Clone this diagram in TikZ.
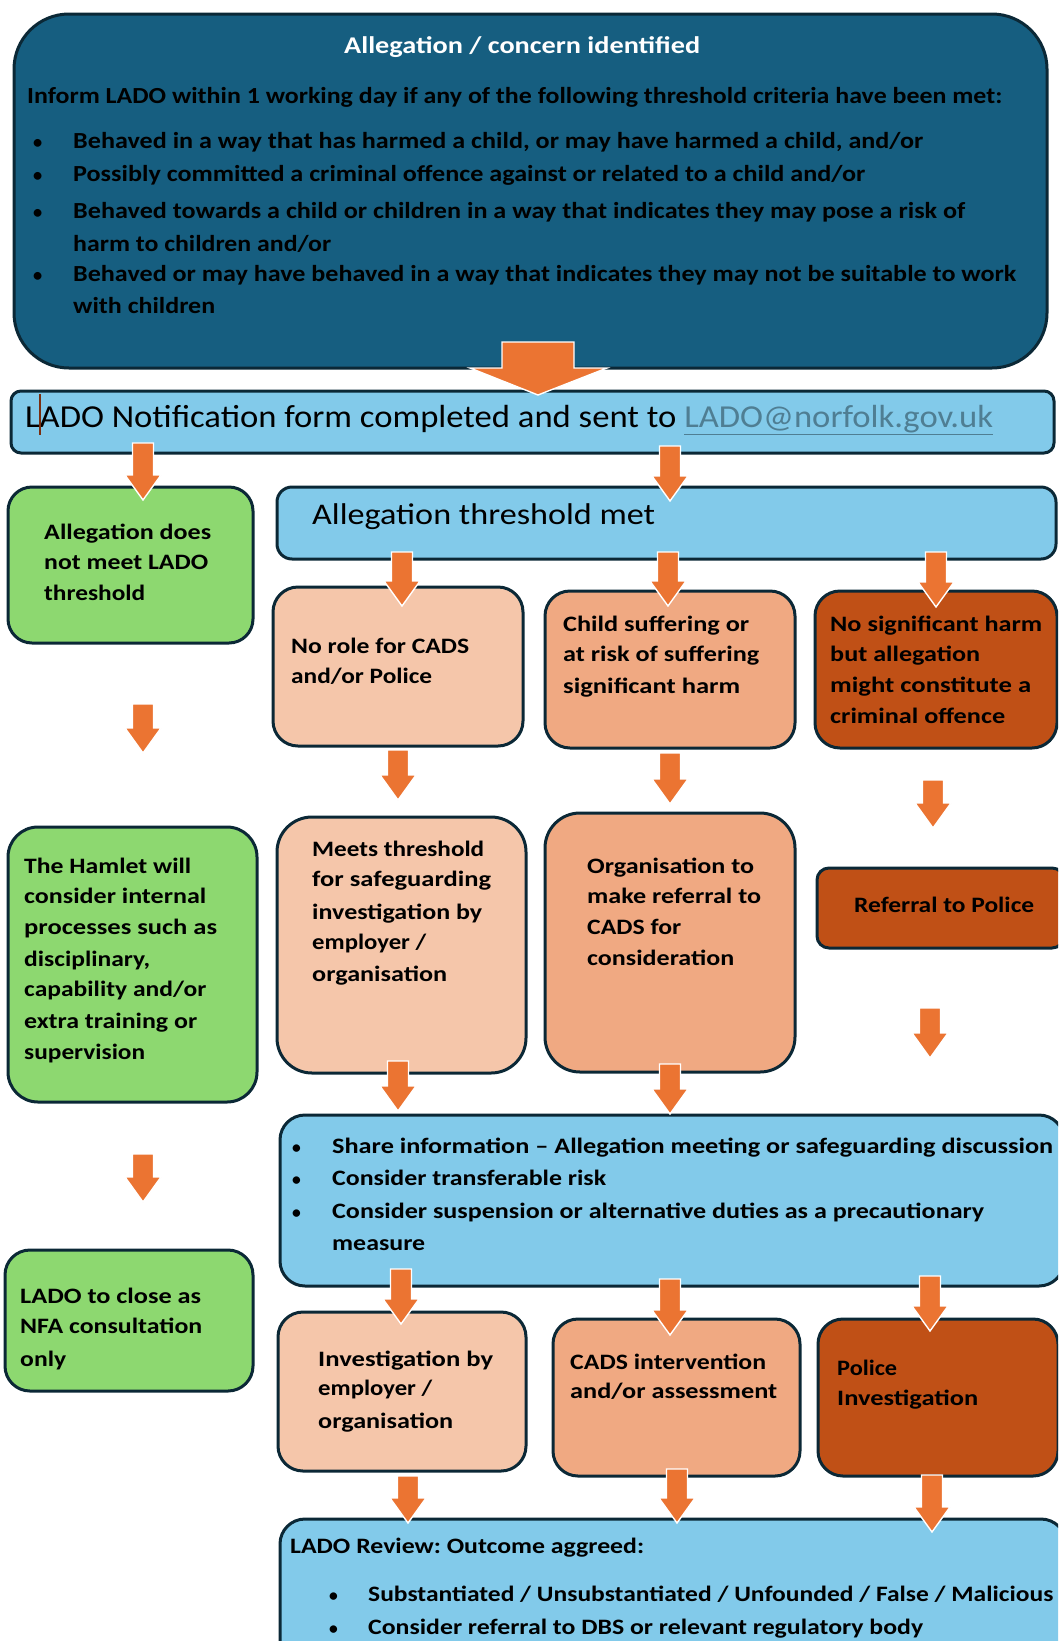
\documentclass[tikz,border=0pt]{standalone}
\usepackage{fontspec}
\setmainfont{Carlito}
\usepackage{graphicx}
\frenchspacing
\definecolor{dblue}{HTML}{165E80}
\definecolor{lblue}{HTML}{82CAEA}
\definecolor{lgreen}{HTML}{8DD870}
\definecolor{peach}{HTML}{F5C6AA}
\definecolor{salmon}{HTML}{F0A982}
\definecolor{rust}{HTML}{C05016}
\definecolor{arrowc}{HTML}{EB7432}
\definecolor{bord}{HTML}{0B2836}
\definecolor{linkc}{HTML}{4F7E93}
\definecolor{cursc}{HTML}{7A2E10}
\tikzset{
  rbox/.style={draw=bord, line width=3pt, inner sep=0pt, outer sep=0pt, anchor=north west},
  arr/.style={fill=arrowc, draw=white, line width=1.4pt},
  tb/.style={inner sep=0pt, anchor=west, font=\fontsize{23}{27}\selectfont\bfseries, text height=17pt, text depth=3.5pt},
  tt/.style={inner sep=0pt, anchor=west, font=\fontsize{24}{28}\selectfont\bfseries, text=white, text height=18pt, text depth=3.6pt},
  bx/.style={inner sep=0pt, anchor=west, font=\fontsize{22}{26}\selectfont\bfseries, text height=16.5pt, text depth=3.3pt},
  big/.style={inner sep=0pt, anchor=west, font=\fontsize{32}{36}\selectfont, text height=24pt, text depth=4.8pt},
  mid/.style={inner sep=0pt, anchor=west, font=\fontsize{30}{34}\selectfont, text height=22.5pt, text depth=4.5pt},
}
% box: name, x1, y1, x2, y2, radius, fill
\newcommand\BOX[7]{\node[rbox, rounded corners=#6pt, fill=#7, minimum width={(#4)-(#2)}, minimum height={(#5)-(#3)}] (#1) at (#2,#3) {};}
% text line: [style] name, x, y, width, text
\newcommand\TL[6][bx]{\node[#1] (#2) at (#3,#4) {\resizebox{#5pt}{\height}{#6}};}
% bullet: [style] name, x, y
\newcommand\BL[4][bx]{\node[#1] (#2) at (#3,#4) {\scalebox{0.8}{\textbullet}};}
% block arrow: name, x, ytop, ytip
\newcommand\ARW[4]{\coordinate (#1) at (#2,#3);
  \filldraw[arr] (#2-10.5,#3) -- (#2+10.5,#3) -- (#2+10.5,#4-25) -- (#2+18,#4-25) -- (#2,#4) -- (#2-18,#4-25) -- (#2-10.5,#4-25) -- cycle;}
\begin{document}
\begin{tikzpicture}[x=1pt,y=-1pt]
\path[use as bounding box, clip] (0,0) rectangle (1058,1641);
\fill[white] (0,0) rectangle (1058,1641);
% ---------- boxes ----------
\BOX{top}{14}{14}{1047}{368}{55}{dblue}
\BOX{notif}{11}{391}{1054}{453}{10}{lblue}
\BOX{gone}{8}{487}{253}{643}{24}{lgreen}
\BOX{thr}{277}{487}{1056}{559}{15}{lblue}
\BOX{bA}{273}{587}{523}{746}{25}{peach}
\BOX{bB}{545}{591}{795}{748}{25}{salmon}
\BOX{bC}{815}{591}{1057}{748}{25}{rust}
\BOX{gtwo}{8}{827}{257}{1102}{30}{lgreen}
\BOX{bD}{277}{817}{526}{1073}{35}{peach}
\BOX{bE}{545}{813}{795}{1072}{35}{salmon}
\BOX{bF}{817}{868}{1064}{948}{12}{rust}
\BOX{share}{280}{1115}{1064}{1286}{25}{lblue}
\BOX{gthree}{5}{1250}{253}{1391}{25}{lgreen}
\BOX{bG}{278}{1312}{526}{1471}{25}{peach}
\BOX{bH}{553}{1319}{800}{1476}{25}{salmon}
\BOX{bI}{818}{1319}{1058}{1476}{25}{rust}
\BOX{rev}{280}{1519}{1066}{1700}{25}{lblue}
% ---------- arrows ----------
\coordinate (abig) at (538,342);
\filldraw[arr] (502,342) -- (574,342) -- (574,368) -- (607,368) -- (538,395) -- (470,368) -- (502,368) -- cycle;
\ARW{a1}{143}{443}{500}
\ARW{a2}{670}{446}{501}
\ARW{a3}{402}{552}{606}
\ARW{a4}{668}{552}{606}
\ARW{a5}{936}{552}{607}
\ARW{a6}{143}{704}{753}
\ARW{a7}{398}{750}{800}
\ARW{a8}{670}{753}{804}
\ARW{a9}{933}{780}{828}
\ARW{a10}{930}{1008}{1058}
\ARW{a11}{398}{1061}{1111}
\ARW{a12}{670}{1064}{1114}
\ARW{a13}{143}{1154}{1202}
\ARW{a14}{401}{1269}{1324}
\ARW{a15}{670}{1279}{1335}
\ARW{a16}{930}{1276}{1331}
\ARW{a17}{408}{1476}{1523}
\ARW{a18}{677}{1469}{1523}
\ARW{a19}{932}{1475}{1532}
% ---------- texts: top box ----------
\TL[tt]{title}{344}{46}{356}{Allegation / concern identified}
\TL[tb]{inform}{27}{97}{975}{Inform LADO within 1 working day if any of the following threshold criteria have been met:}
\BL[tb]{d1}{33}{142}
\BL[tb]{d2}{33}{175}
\BL[tb]{d3}{33}{212}
\BL[tb]{d4}{33}{275}
\TL[tb]{c1}{73}{142}{850}{Behaved in a way that has harmed a child, or may have harmed a child, and/or}
\TL[tb]{c2}{73}{175}{792}{Possibly committed a criminal offence against or related to a child and/or}
\TL[tb]{c3}{73}{212}{892}{Behaved towards a child or children in a way that indicates they may pose a risk of}
\TL[tb]{c3b}{73}{245}{258}{harm to children and/or}
\TL[tb]{c4}{73}{275}{943}{Behaved or may have behaved in a way that indicates they may not be suitable to work}
\TL[tb]{c4b}{73}{307}{142}{with children}
% ---------- notification ----------
\TL[big]{notiftxt}{25}{418}{968}{LADO Notification form completed and sent to \textcolor{linkc}{\underline{LADO@norfolk.gov.uk}}}
\draw[cursc, line width=2.5pt] (40,394) -- (40,435);
% ---------- threshold ----------
\TL[mid]{thrtxt}{312}{515}{343}{Allegation threshold met}
% ---------- green 1 ----------
\TL{g1a}{44}{533}{167}{Allegation does}
\TL{g1b}{44}{563}{164}{not meet LADO}
\TL{g1c}{44}{594}{101}{threshold}
% ---------- A B C ----------
\TL{tAa}{291}{647}{178}{No role for CADS}
\TL{tAb}{291}{677}{141}{and/or Police}
\TL{tBa}{563}{625}{186}{Child suffering or}
\TL{tBb}{563}{655}{196}{at risk of suffering}
\TL{tBc}{563}{687}{177}{significant harm}
\TL{tCa}{830}{625}{212}{No significant harm}
\TL{tCb}{830}{655}{150}{but allegation}
\TL{tCc}{830}{686}{201}{might constitute a}
\TL{tCd}{830}{717}{175}{criminal offence}
% ---------- green 2 ----------
\TL{g2a}{24}{867}{167}{The Hamlet will}
\TL{g2b}{24}{897}{182}{consider internal}
\TL{g2c}{24}{928}{193}{processes such as}
\TL{g2d}{24}{960}{126}{disciplinary,}
\TL{g2e}{24}{990}{182}{capability and/or}
\TL{g2f}{24}{1022}{173}{extra training or}
\TL{g2g}{24}{1053}{121}{supervision}
% ---------- D E F ----------
\TL{tDa}{312}{850}{172}{Meets threshold}
\TL{tDb}{312}{880}{179}{for safeguarding}
\TL{tDc}{312}{913}{170}{investigation by}
\TL{tDd}{312}{943}{114}{employer /}
\TL{tDe}{312}{975}{135}{organisation}
\TL{tEa}{587}{867}{167}{Organisation to}
\TL{tEb}{587}{897}{174}{make referral to}
\TL{tEc}{587}{928}{94}{CADS for}
\TL{tEd}{587}{959}{147}{consideration}
\TL{tFa}{854}{906}{180}{Referral to Police}
% ---------- share ----------
\BL{s1}{292}{1147}
\BL{s2}{292}{1179}
\BL{s3}{292}{1212}
\TL{sh1}{332}{1147}{721}{Share information – Allegation meeting or safeguarding discussion}
\TL{sh2}{332}{1179}{274}{Consider transferable risk}
\TL{sh3}{332}{1212}{652}{Consider suspension or alternative duties as a precautionary}
\TL{sh4}{332}{1244}{93}{measure}
% ---------- green 3 ----------
\TL{g3a}{20}{1297}{181}{LADO to close as}
\TL{g3b}{20}{1327}{182}{NFA consultation}
\TL{g3c}{20}{1360}{46}{only}
% ---------- G H I ----------
\TL{tGa}{318}{1360}{175}{Investigation by}
\TL{tGb}{318}{1389}{114}{employer /}
\TL{tGc}{318}{1422}{135}{organisation}
\TL{tHa}{570}{1363}{196}{CADS intervention}
\TL{tHb}{570}{1392}{207}{and/or assessment}
\TL{tIa}{837}{1369}{60}{Police}
\TL{tIb}{837}{1399}{141}{Investigation}
% ---------- review ----------
\TL{rv0}{290}{1547}{354}{LADO Review: Outcome aggreed:}
\BL{r1}{329}{1595}
\BL{r2}{329}{1628}
\TL{rv1}{368}{1595}{685}{Substantiated / Unsubstantiated / Unfounded / False / Malicious}
\TL{rv2}{368}{1628}{555}{Consider referral to DBS or relevant regulatory body}
\end{tikzpicture}
\end{document}
